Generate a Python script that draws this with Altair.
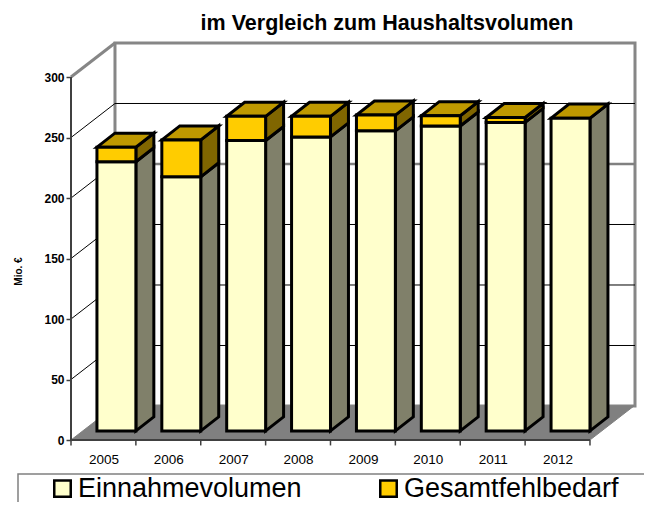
import json
import altair as alt

years = ["2005", "2006", "2007", "2008", "2009", "2010", "2011", "2012"]
einnahmen = [222.5, 210, 240, 243, 248, 252, 255, 258.5]
fehlbedarf = [12, 30.5, 20, 17, 13, 8.5, 4, 0]
series_names = ["Einnahmevolumen", "Gesamtfehlbedarf"]
y_ticks = [0, 50, 100, 150, 200, 250, 300]
FONT = "Liberation Sans"

# Layout of the pseudo-3D box, in data units
X_MAX, Y_MAX = 8.694, 328.1
WALL_DX, WALL_DY = 0.678, 28.1
BAR_L, BAR_R, BASE = 0.40, 1.0, 7.5
SIDE_DX, SIDE_DY = 0.277, 11.6

xs = alt.Scale(domain=[0, X_MAX], nice=False, zero=False)
ys = alt.Scale(domain=[0, Y_MAX], nice=False, zero=False)
x_axis = alt.Axis(
    values=[i + 0.5 for i in range(len(years))],
    labelExpr=f"{json.dumps(years)}[floor(datum.value)]",
    tickSize=0, domain=False, grid=False, labelFont=FONT, labelFontSize=13.5,
    labelColor="black", labelPadding=19, labelBaseline="middle", title=None)
y_axis = alt.Axis(
    values=y_ticks, domain=False, grid=False, tickSize=5, tickColor="#404040",
    tickWidth=1.5, labelFont=FONT, labelFontSize=12, labelFontWeight="bold",
    labelColor="black", labelPadding=2, title="Mio. €", titleFont=FONT, titleFontSize=10,
    titleFontWeight="bold", titleColor="black", titleX=-53, titleY=228,
    titleAngle=270, titleAlign="center", titleBaseline="middle")
X = lambda f="x", **k: alt.X(f"{f}:Q", scale=xs, axis=x_axis, **k)
Y = lambda f="y", **k: alt.Y(f"{f}:Q", scale=ys, axis=y_axis, **k)


def df(rows):
    return alt.Data(values=rows)


# walls and floor
back = (alt.Chart(df([{"x": WALL_DX, "x2": X_MAX, "y": WALL_DY, "y2": Y_MAX}]))
        .mark_rect(fill="white", stroke="#868686", strokeWidth=3)
        .encode(x=X(), x2="x2:Q", y=Y(), y2="y2:Q"))

floor = (alt.Chart(df([
    {"x": 0, "y": 0, "y2": 0},
    {"x": WALL_DX, "y": 0, "y2": WALL_DY},
    {"x": 8, "y": 0, "y2": WALL_DY},
    {"x": 8 + WALL_DX, "y": WALL_DY, "y2": WALL_DY},
])).mark_area(fill="#808080", orient="vertical", stroke="#808080", strokeWidth=1)
    .encode(x=X(), y=Y(), y2="y2:Q"))

grid_rows, diag_rows = [], []
for v in y_ticks[1:-1]:
    grid_rows.append({"x": WALL_DX, "x2": X_MAX, "y": v + WALL_DY,
                      "c": "#808080" if v == 200 else "black",
                      "w": 2.5 if v == 200 else 1})
    diag_rows += [{"v": v, "x": 0, "y": v}, {"v": v, "x": WALL_DX, "y": v + WALL_DY}]
grid = (alt.Chart(df(grid_rows)).mark_rule()
        .encode(x=X(), x2="x2:Q", y=Y(),
                stroke=alt.Stroke("c:N", scale=None, legend=None),
                strokeWidth=alt.StrokeWidth("w:Q", scale=None, legend=None)))
diag = (alt.Chart(df(diag_rows)).mark_line(color="black", strokeWidth=1)
        .encode(x=X(), y=Y(), detail="v:Q"))
top_left = (alt.Chart(df([{"x": 0, "y": 300}, {"x": WALL_DX, "y": 300 + WALL_DY}]))
            .mark_line(color="#868686", strokeWidth=3).encode(x=X(), y=Y()))
axis_v = (alt.Chart(df([{"x": 0, "y": 0, "y2": 300}])).mark_rule(color="#404040", strokeWidth=2)
          .encode(x=X(), y=Y(), y2="y2:Q"))
axis_h = (alt.Chart(df([{"x": 0, "x2": 8, "y": 0}])).mark_rule(color="#404040", strokeWidth=2)
          .encode(x=X(), x2="x2:Q", y=Y()))
ticks = (alt.Chart(df([{"x": i, "y": 0, "y2": -4.5} for i in range(len(years) + 1)]))
         .mark_rule(color="#404040", strokeWidth=1.5).encode(x=X(), y=Y(), y2="y2:Q"))

# bars
front, sides, tops = [], [], []
for i, (a, b) in enumerate(zip(einnahmen, fehlbedarf)):
    l, r = i + BAR_L, i + BAR_R
    y0, y1, y2 = BASE, BASE + a, BASE + a + b
    front.append({"x": l, "x2": r, "y": y0, "y2": y1, "s": series_names[0]})
    sides += [{"id": f"{i}a", "c": "#80806A", "x": r, "y": y0, "y2": y1},
              {"id": f"{i}a", "c": "#80806A", "x": r + SIDE_DX, "y": y0 + SIDE_DY, "y2": y1 + SIDE_DY}]
    if b > 0:
        front.append({"x": l, "x2": r, "y": y1, "y2": y2, "s": series_names[1]})
        sides += [{"id": f"{i}b", "c": "#806600", "x": r, "y": y1, "y2": y2},
                  {"id": f"{i}b", "c": "#806600", "x": r + SIDE_DX, "y": y1 + SIDE_DY, "y2": y2 + SIDE_DY}]
    tops += [{"id": f"{i}t", "x": l, "y": y2, "y2": y2},
             {"id": f"{i}t", "x": l + SIDE_DX, "y": y2, "y2": y2 + SIDE_DY},
             {"id": f"{i}t", "x": r, "y": y2, "y2": y2 + SIDE_DY},
             {"id": f"{i}t", "x": r + SIDE_DX, "y": y2 + SIDE_DY, "y2": y2 + SIDE_DY}]

side_layer = (alt.Chart(df(sides))
              .mark_area(orient="vertical", stroke="black", strokeWidth=3, strokeJoin="miter")
              .encode(x=X(), y=Y(), y2="y2:Q", detail="id:N",
                      fill=alt.Fill("c:N", scale=None, legend=None)))
top_layer = (alt.Chart(df(tops))
             .mark_area(orient="vertical", fill="#BF9900", stroke="black", strokeWidth=3, strokeJoin="miter")
             .encode(x=X(), y=Y(), y2="y2:Q", detail="id:N"))
front_layer = (alt.Chart(df(front))
               .mark_rect(filled=True, stroke="black", strokeWidth=3)
               .encode(x=X(), x2="x2:Q", y=Y(), y2="y2:Q",
                       color=alt.Color("s:N", title=None,
                                       scale=alt.Scale(domain=series_names, range=["#FFFFCC", "#FFCC00"]),
                                       legend=alt.Legend(
                                           orient="none", legendX=-22, legendY=432, direction="horizontal",
                                           columns=2, symbolType="square", symbolSize=272,
                                           symbolStrokeColor="black", symbolStrokeWidth=2.5,
                                           labelFont=FONT, labelFontSize=27, labelColor="black",
                                           labelOffset=2, columnPadding=73, labelLimit=400, padding=0))))

legend_box = (alt.Chart(df([{"x": 0, "y": 0}])).mark_rect(fill="transparent", stroke="#808080", strokeWidth=1.5)
              .encode(x=alt.value(-53), x2=alt.value(600), y=alt.value(431), y2=alt.value(480)))

chart = (alt.layer(back, legend_box, floor, grid, diag, top_left, axis_v, axis_h, ticks,
                   side_layer, top_layer, front_layer)
         .properties(
             width=564, height=397,
             autosize=alt.AutoSizeParams(type="none"),
             padding={"left": 63, "top": 35, "right": 9, "bottom": 62},
             title=alt.TitleParams("im Vergleich zum Haushaltsvolumen", font=FONT, fontSize=21.5,
                                   fontWeight="bold", color="black", anchor="middle", dx=34, offset=3))
         .configure_view(stroke=None))

chart.save("out.html", embed_options={"renderer": "svg", "actions": False})
